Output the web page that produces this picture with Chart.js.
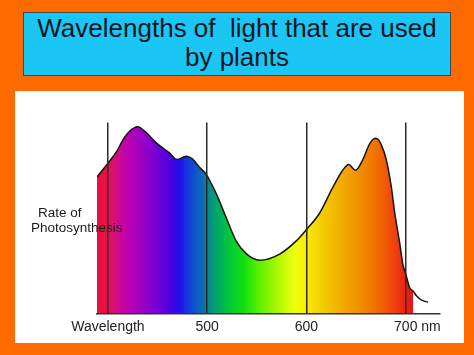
<!DOCTYPE html>
<html>
<head>
<meta charset="utf-8">
<script src="https://cdn.jsdelivr.net/npm/chart.js@4"></script>
<style>
  html, body { margin: 0; padding: 0; }
  body {
    width: 474px; height: 355px; overflow: hidden;
    background: #FF6A00; position: relative;
    font-family: "Liberation Sans", Arial, sans-serif;
  }
  .title {
    position: absolute; left: 23px; top: 12px;
    width: 426px; height: 61px;
    background: #1BC6F5; border: 1px solid #3a4a55;
    text-align: center; font-size: 26px; line-height: 29px;
    color: #0b1622; padding-top: 1px; box-sizing: content-box;
  }
  .panel {
    position: absolute; left: 15px; top: 91px;
    width: 449px; height: 252px; background: #fff;
  }
  .ylabel {
    position: absolute; font-size: 13.5px; color: #1a1a1a;
    white-space: nowrap; z-index: 2;
  }
</style>
</head>
<body>
<div class="title">Wavelengths of&nbsp; light that are used<br>by plants</div>
<div class="panel">
  <canvas id="chart" width="449" height="252"></canvas>
  <div class="ylabel" style="left:23px; top:114px;">Rate of</div>
  <div class="ylabel" style="left:16px; top:129px;">Photosynthesis</div>
</div>
<script>
// curve (nm vs relative rate, 0-100)
const wavelengths = [389, 400, 409, 415, 422, 430, 437, 449, 462, 469.5, 479, 485, 492, 499,
  509, 519, 529, 539.5, 553, 573, 590, 599, 613, 626, 636.5, 642.5, 649.5, 656.5, 664, 670,
  675.5, 680.5, 685.5, 689, 694, 697, 700, 704, 707.5, 711, 716, 722.5];
const rates = [71.5, 78.7, 85, 90.8, 95.5, 97.8, 95.5, 89.2, 84.1, 80.6, 82.4, 81, 76.7, 72.9,
  62.9, 50.4, 38.2, 31.3, 28, 31.2, 38.2, 43.4, 52.4, 65.5, 75, 78, 75, 80.3, 89.2, 91.7,
  88.2, 80.3, 66.2, 52.4, 36.6, 26, 20.8, 13.6, 11.8, 9.2, 7.1, 6];
const fillEnd = 707.5;

const tickValues = [400, 500, 600, 700];
const tickLabels = ['Wavelength', '500', '600', '700'];
const unitLabel = 'nm';

// spectrum colours along the x axis
const spectrumStops = [
  [389, '#E8103C'], [399, '#E41048'], [405, '#DC1070'], [412, '#CC0898'], [422, '#B800B4'],
  [442, '#8A00CC'], [462, '#5000E0'], [472, '#2010E8'], [482, '#1040DA'], [492, '#1060C4'],
  [499, '#087C9C'], [507, '#00A070'], [522, '#00C83A'], [537, '#12E010'], [553, '#60F000'],
  [573, '#B4F800'], [588, '#F0FF10'], [598, '#F8F000'], [613, '#F4D200'], [633, '#F2B000'],
  [653, '#F09000'], [674, '#F06800'], [689, '#F04010'], [700, '#E82010'], [708, '#E01818']
];

const labelFont = { family: '"Liberation Sans", Arial, sans-serif', size: 14 };
const labelPad = 5.5;

const curve = wavelengths.map((w, i) => ({ x: w, y: rates[i] }));
const filled = curve.filter(p => p.x <= fillEnd);

function spectrumFill(context) {
  const chart = context.chart;
  if (!chart.chartArea) return '#E8103C';
  const xs = chart.scales.x;
  const g = chart.ctx.createLinearGradient(xs.left, 0, xs.right, 0);
  spectrumStops.forEach(([w, c]) => {
    const f = (xs.getPixelForValue(w) - xs.left) / (xs.right - xs.left);
    g.addColorStop(Math.min(1, Math.max(0, f)), c);
  });
  return g;
}

// " nm" after the last tick label
const unitPlugin = {
  id: 'unitLabel',
  afterDraw(chart) {
    const xs = chart.scales.x;
    const ctx = chart.ctx;
    ctx.save();
    ctx.font = labelFont.size + 'px ' + labelFont.family;
    const last = tickValues[tickValues.length - 1];
    const px = xs.getPixelForValue(last) + ctx.measureText(tickLabels[tickLabels.length - 1]).width / 2;
    ctx.fillStyle = '#222';
    ctx.textBaseline = 'middle';
    ctx.fillText(' ' + unitLabel, px, xs.top + labelPad + labelFont.size * 0.6);
    ctx.restore();
  }
};

new Chart(document.getElementById('chart'), {
  type: 'line',
  data: {
    datasets: [
      {
        data: curve,
        borderColor: '#151515',
        borderWidth: 1.5,
        pointRadius: 0,
        fill: false,
        cubicInterpolationMode: 'monotone',
        order: 0
      },
      {
        data: filled,
        borderWidth: 0,
        borderColor: 'rgba(0,0,0,0)',
        backgroundColor: spectrumFill,
        pointRadius: 0,
        fill: 'origin',
        cubicInterpolationMode: 'monotone',
        order: 1
      }
    ]
  },
  options: {
    responsive: false,
    animation: false,
    layout: { padding: { left: 82, top: 31.5, right: 24.5, bottom: 1.5 } },
    plugins: { legend: { display: false }, tooltip: { enabled: false } },
    scales: {
      x: {
        type: 'linear',
        min: 389,
        max: 734,
        afterBuildTicks: (axis) => { axis.ticks = tickValues.map(v => ({ value: v })); },
        ticks: {
          callback: (v) => tickLabels[tickValues.indexOf(v)],
          color: '#222',
          font: labelFont,
          padding: labelPad,
          maxRotation: 0,
          autoSkip: false
        },
        grid: { color: '#2a2a2a', lineWidth: 1.5, drawTicks: false, z: 1 },
        border: { display: true, color: '#333', width: 1.5, z: 1 }
      },
      y: {
        display: false,
        min: 0,
        max: 100
      }
    }
  },
  plugins: [unitPlugin]
});
</script>
</body>
</html>
